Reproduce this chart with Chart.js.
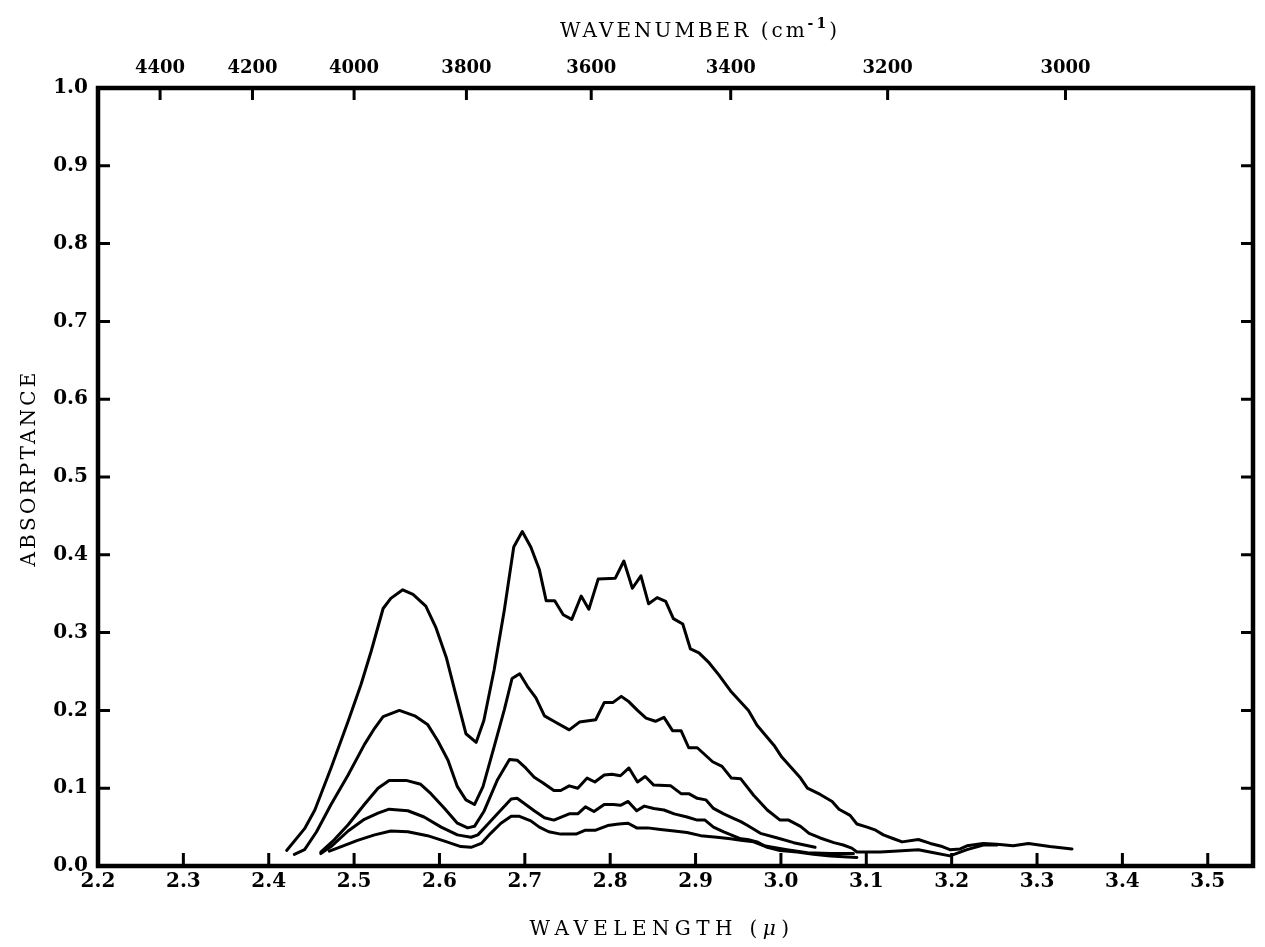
<!DOCTYPE html>
<html>
<head>
<meta charset="utf-8">
<title>Absorptance vs wavelength</title>
<script src="https://cdn.jsdelivr.net/npm/chart.js@4.4.1/dist/chart.umd.min.js"></script>
<style>
    html, body { margin: 0; padding: 0; background: #fff; }
    #wrap { width: 1265px; height: 947px; position: relative; }
</style>
</head>
<body>
<div id="wrap"><canvas id="spectrum"></canvas></div>
<script>
// axis ticks
const WAVELENGTH_TICKS = [2.2, 2.3, 2.4, 2.5, 2.6, 2.7, 2.8, 2.9, 3.0, 3.1, 3.2, 3.3, 3.4, 3.5];
const WAVENUMBER_TICKS = [4400, 4200, 4000, 3800, 3600, 3400, 3200, 3000];
const ABSORPTANCE_TICKS = [0.0, 0.1, 0.2, 0.3, 0.4, 0.5, 0.6, 0.7, 0.8, 0.9, 1.0];
const X_MIN = 2.2, X_MAX = 3.553;

// curves: [wavelength (micron), absorptance]
const curve1 = [
    [2.421, 0.020], [2.442, 0.048], [2.454, 0.072], [2.473, 0.126], [2.493, 0.186], [2.508, 0.233],
    [2.520, 0.276], [2.534, 0.331], [2.543, 0.344], [2.557, 0.355], [2.569, 0.349], [2.584, 0.334],
    [2.596, 0.306], [2.608, 0.268], [2.619, 0.221], [2.631, 0.170], [2.643, 0.159], [2.652, 0.187],
    [2.664, 0.252], [2.676, 0.329], [2.687, 0.410], [2.697, 0.430], [2.707, 0.410], [2.717, 0.381],
    [2.725, 0.341], [2.735, 0.341], [2.745, 0.323], [2.755, 0.317], [2.766, 0.347], [2.775, 0.330],
    [2.786, 0.369], [2.806, 0.370], [2.816, 0.392], [2.826, 0.357], [2.836, 0.373], [2.845, 0.337],
    [2.855, 0.345], [2.865, 0.340], [2.874, 0.318], [2.885, 0.311], [2.894, 0.279], [2.904, 0.274],
    [2.916, 0.261], [2.927, 0.246], [2.941, 0.225], [2.962, 0.200], [2.972, 0.181], [2.992, 0.155],
    [3.001, 0.140], [3.023, 0.113], [3.031, 0.100], [3.046, 0.092], [3.060, 0.083], [3.068, 0.073],
    [3.081, 0.065], [3.089, 0.054], [3.101, 0.050], [3.111, 0.046], [3.120, 0.040], [3.132, 0.035],
    [3.142, 0.031], [3.161, 0.034], [3.175, 0.029], [3.189, 0.025], [3.198, 0.021], [3.210, 0.022],
    [3.218, 0.026], [3.237, 0.029], [3.253, 0.028], [3.272, 0.026], [3.290, 0.029], [3.315, 0.025],
    [3.341, 0.022]
];
const curve2 = [
    [2.430, 0.015], [2.442, 0.021], [2.456, 0.044], [2.473, 0.079], [2.493, 0.117], [2.512, 0.156],
    [2.524, 0.177], [2.534, 0.192], [2.553, 0.200], [2.571, 0.193], [2.586, 0.182], [2.598, 0.161],
    [2.610, 0.136], [2.621, 0.102], [2.631, 0.085], [2.641, 0.079], [2.651, 0.102], [2.664, 0.153],
    [2.676, 0.201], [2.685, 0.241], [2.694, 0.247], [2.703, 0.231], [2.713, 0.216], [2.723, 0.193],
    [2.734, 0.186], [2.752, 0.175], [2.764, 0.185], [2.783, 0.188], [2.793, 0.210], [2.803, 0.210],
    [2.813, 0.218], [2.822, 0.211], [2.832, 0.200], [2.842, 0.190], [2.853, 0.186], [2.863, 0.191],
    [2.873, 0.174], [2.883, 0.174], [2.892, 0.152], [2.902, 0.152], [2.920, 0.134], [2.931, 0.128],
    [2.942, 0.113], [2.953, 0.112], [2.968, 0.091], [2.984, 0.072], [2.999, 0.059], [3.009, 0.059],
    [3.023, 0.051], [3.033, 0.042], [3.046, 0.036], [3.062, 0.030], [3.073, 0.027], [3.083, 0.023],
    [3.089, 0.018], [3.116, 0.018], [3.132, 0.019], [3.161, 0.021], [3.179, 0.017], [3.198, 0.013],
    [3.218, 0.021], [3.237, 0.027], [3.253, 0.027]
];
const curve3 = [
    [2.461, 0.018], [2.477, 0.034], [2.493, 0.053], [2.512, 0.079], [2.528, 0.100], [2.541, 0.110],
    [2.561, 0.110], [2.578, 0.105], [2.590, 0.093], [2.606, 0.074], [2.621, 0.055], [2.633, 0.049],
    [2.641, 0.051], [2.652, 0.070], [2.668, 0.111], [2.682, 0.137], [2.691, 0.136], [2.701, 0.126],
    [2.711, 0.114], [2.721, 0.107], [2.734, 0.097], [2.742, 0.097], [2.752, 0.103], [2.762, 0.100],
    [2.773, 0.113], [2.782, 0.108], [2.793, 0.117], [2.802, 0.118], [2.812, 0.116], [2.822, 0.126],
    [2.832, 0.108], [2.841, 0.115], [2.851, 0.104], [2.871, 0.103], [2.883, 0.093], [2.892, 0.093],
    [2.902, 0.087], [2.912, 0.085], [2.921, 0.074], [2.933, 0.067], [2.945, 0.061], [2.953, 0.057],
    [2.961, 0.052], [2.976, 0.042], [2.996, 0.036], [3.015, 0.030], [3.040, 0.024]
];
const curve4 = [
    [2.461, 0.016], [2.473, 0.025], [2.493, 0.045], [2.512, 0.060], [2.528, 0.068], [2.541, 0.073],
    [2.563, 0.071], [2.582, 0.063], [2.602, 0.050], [2.621, 0.040], [2.637, 0.037], [2.645, 0.040],
    [2.656, 0.053], [2.672, 0.072], [2.684, 0.086], [2.691, 0.087], [2.701, 0.079], [2.711, 0.071],
    [2.723, 0.062], [2.734, 0.059], [2.752, 0.067], [2.762, 0.067], [2.771, 0.076], [2.781, 0.070],
    [2.793, 0.079], [2.804, 0.079], [2.812, 0.078], [2.821, 0.083], [2.831, 0.071], [2.840, 0.077],
    [2.851, 0.074], [2.863, 0.072], [2.875, 0.067], [2.890, 0.063], [2.902, 0.059], [2.911, 0.059],
    [2.921, 0.050], [2.933, 0.044], [2.953, 0.035], [2.961, 0.034], [2.972, 0.031], [2.984, 0.024],
    [2.999, 0.020], [3.019, 0.018], [3.038, 0.015], [3.058, 0.013], [3.089, 0.011]
];
const curve5 = [
    [2.471, 0.019], [2.485, 0.025], [2.504, 0.033], [2.524, 0.040], [2.543, 0.045], [2.563, 0.044],
    [2.586, 0.039], [2.606, 0.032], [2.625, 0.025], [2.637, 0.024], [2.649, 0.029], [2.660, 0.042],
    [2.672, 0.055], [2.684, 0.064], [2.693, 0.064], [2.707, 0.058], [2.717, 0.050], [2.728, 0.044],
    [2.742, 0.041], [2.760, 0.041], [2.771, 0.046], [2.783, 0.046], [2.797, 0.052], [2.810, 0.054],
    [2.821, 0.055], [2.831, 0.049], [2.844, 0.049], [2.859, 0.047], [2.875, 0.045], [2.890, 0.043],
    [2.906, 0.039], [2.925, 0.037], [2.941, 0.035], [2.953, 0.033], [2.968, 0.031], [2.980, 0.026],
    [3.007, 0.021], [3.031, 0.017], [3.058, 0.016], [3.085, 0.016]
];
const CURVES = [curve1, curve2, curve3, curve4, curve5];

const SERIF = "'DejaVu Serif', 'Liberation Serif', serif";

// draw a title made of several runs, centred on (cx, cy)
function drawRuns(ctx, runs, cx, cy, spacing) {
    ctx.letterSpacing = spacing + 'px';
    let total = 0;
    runs.forEach(r => { ctx.font = r.font; r.w = ctx.measureText(r.text).width; total += r.w; });
    let x = cx - total / 2;
    ctx.textAlign = 'left';
    ctx.textBaseline = 'middle';
    runs.forEach(r => { ctx.font = r.font; ctx.fillText(r.text, x, cy + (r.dy || 0)); x += r.w; });
}

// frame, inward tick marks and axis titles
const frameAndTicks = {
    id: 'frameAndTicks',
    afterDraw(chart) {
        const { ctx, chartArea: a, scales } = chart;
        const { x, x2, y } = scales;
        ctx.save();
        ctx.strokeStyle = '#000';
        ctx.fillStyle = '#000';
        ctx.lineWidth = 3;
        ctx.beginPath();
        x.ticks.forEach(t => {
            const px = x.getPixelForValue(t.value);
            if (px <= a.left + 2 || px >= a.right - 2) return;
            ctx.moveTo(px, a.bottom); ctx.lineTo(px, a.bottom - 13);
        });
        x2.ticks.forEach(t => {
            const px = x2.getPixelForValue(t.value);
            ctx.moveTo(px, a.top); ctx.lineTo(px, a.top + 12);
        });
        y.ticks.forEach(t => {
            if (t.value <= 0 || t.value >= 1) return;
            const py = y.getPixelForValue(t.value);
            ctx.moveTo(a.left, py); ctx.lineTo(a.left + 12, py);
            ctx.moveTo(a.right, py); ctx.lineTo(a.right - 12, py);
        });
        ctx.stroke();
        ctx.lineWidth = 4.5;
        ctx.strokeRect(a.left, a.top, a.right - a.left, a.bottom - a.top);

        const f = '20px ' + SERIF;
        drawRuns(ctx, [
            { text: 'WAVENUMBER (cm', font: f },
            { text: '-1', font: 'bold 14px ' + SERIF, dy: -8 },
            { text: ')', font: f }
        ], 700, 32, 3);
        drawRuns(ctx, [
            { text: 'WAVELENGTH (', font: f },
            { text: 'μ', font: 'italic 20px ' + SERIF },
            { text: ')', font: f }
        ], 662, 930, 5.4);
        ctx.translate(30, 468);
        ctx.rotate(-Math.PI / 2);
        drawRuns(ctx, [{ text: 'ABSORPTANCE', font: f }], 0, 0, 3.2);
        ctx.restore();
    }
};

document.addEventListener('DOMContentLoaded', () => {
    Chart.defaults.font.family = SERIF;
    Chart.defaults.font.size = 20;
    Chart.defaults.font.weight = 'bold';
    Chart.defaults.color = '#000';

    const datasets = CURVES.map(c => ({
        data: c.map(p => ({ x: p[0], y: p[1] })),
        borderColor: '#000',
        borderWidth: 3,
        pointRadius: 0,
        tension: 0,
        fill: false,
        borderJoinStyle: 'round',
        borderCapStyle: 'round'
    }));

    const noGrid = { display: false, drawTicks: false };
    const noBorder = { display: false };

    new Chart(document.getElementById('spectrum'), {
        type: 'line',
        data: { datasets },
        options: {
            responsive: true,
            maintainAspectRatio: false,
            animation: false,
            layout: { padding: { left: 0, right: 12, top: 0, bottom: 0 } },
            plugins: { legend: { display: false }, tooltip: { enabled: false } },
            scales: {
                x: {
                    type: 'linear', position: 'bottom', min: X_MIN, max: X_MAX,
                    grid: noGrid, border: noBorder,
                    afterBuildTicks: s => { s.ticks = WAVELENGTH_TICKS.map(v => ({ value: v })); },
                    afterFit: s => { s.height = 81; },
                    ticks: { autoSkip: false, maxRotation: 0, padding: 4, callback: v => v.toFixed(1) }
                },
                x2: {
                    type: 'linear', position: 'top', min: X_MIN, max: X_MAX,
                    grid: noGrid, border: noBorder,
                    afterBuildTicks: s => { s.ticks = WAVENUMBER_TICKS.map(w => ({ value: 1e4 / w })); },
                    afterFit: s => { s.height = 88; },
                    ticks: { autoSkip: false, maxRotation: 0, padding: 9, font: { size: 18 },
                             callback: v => String(Math.round(1e4 / v)) }
                },
                y: {
                    type: 'linear', position: 'left', min: 0, max: 1,
                    grid: noGrid, border: noBorder,
                    afterBuildTicks: s => { s.ticks = ABSORPTANCE_TICKS.map(v => ({ value: v })); },
                    afterFit: s => { s.width = 98; },
                    ticks: { autoSkip: false, padding: 10, callback: v => v.toFixed(1) }
                }
            }
        },
        plugins: [frameAndTicks]
    });
});
</script>
</body>
</html>
